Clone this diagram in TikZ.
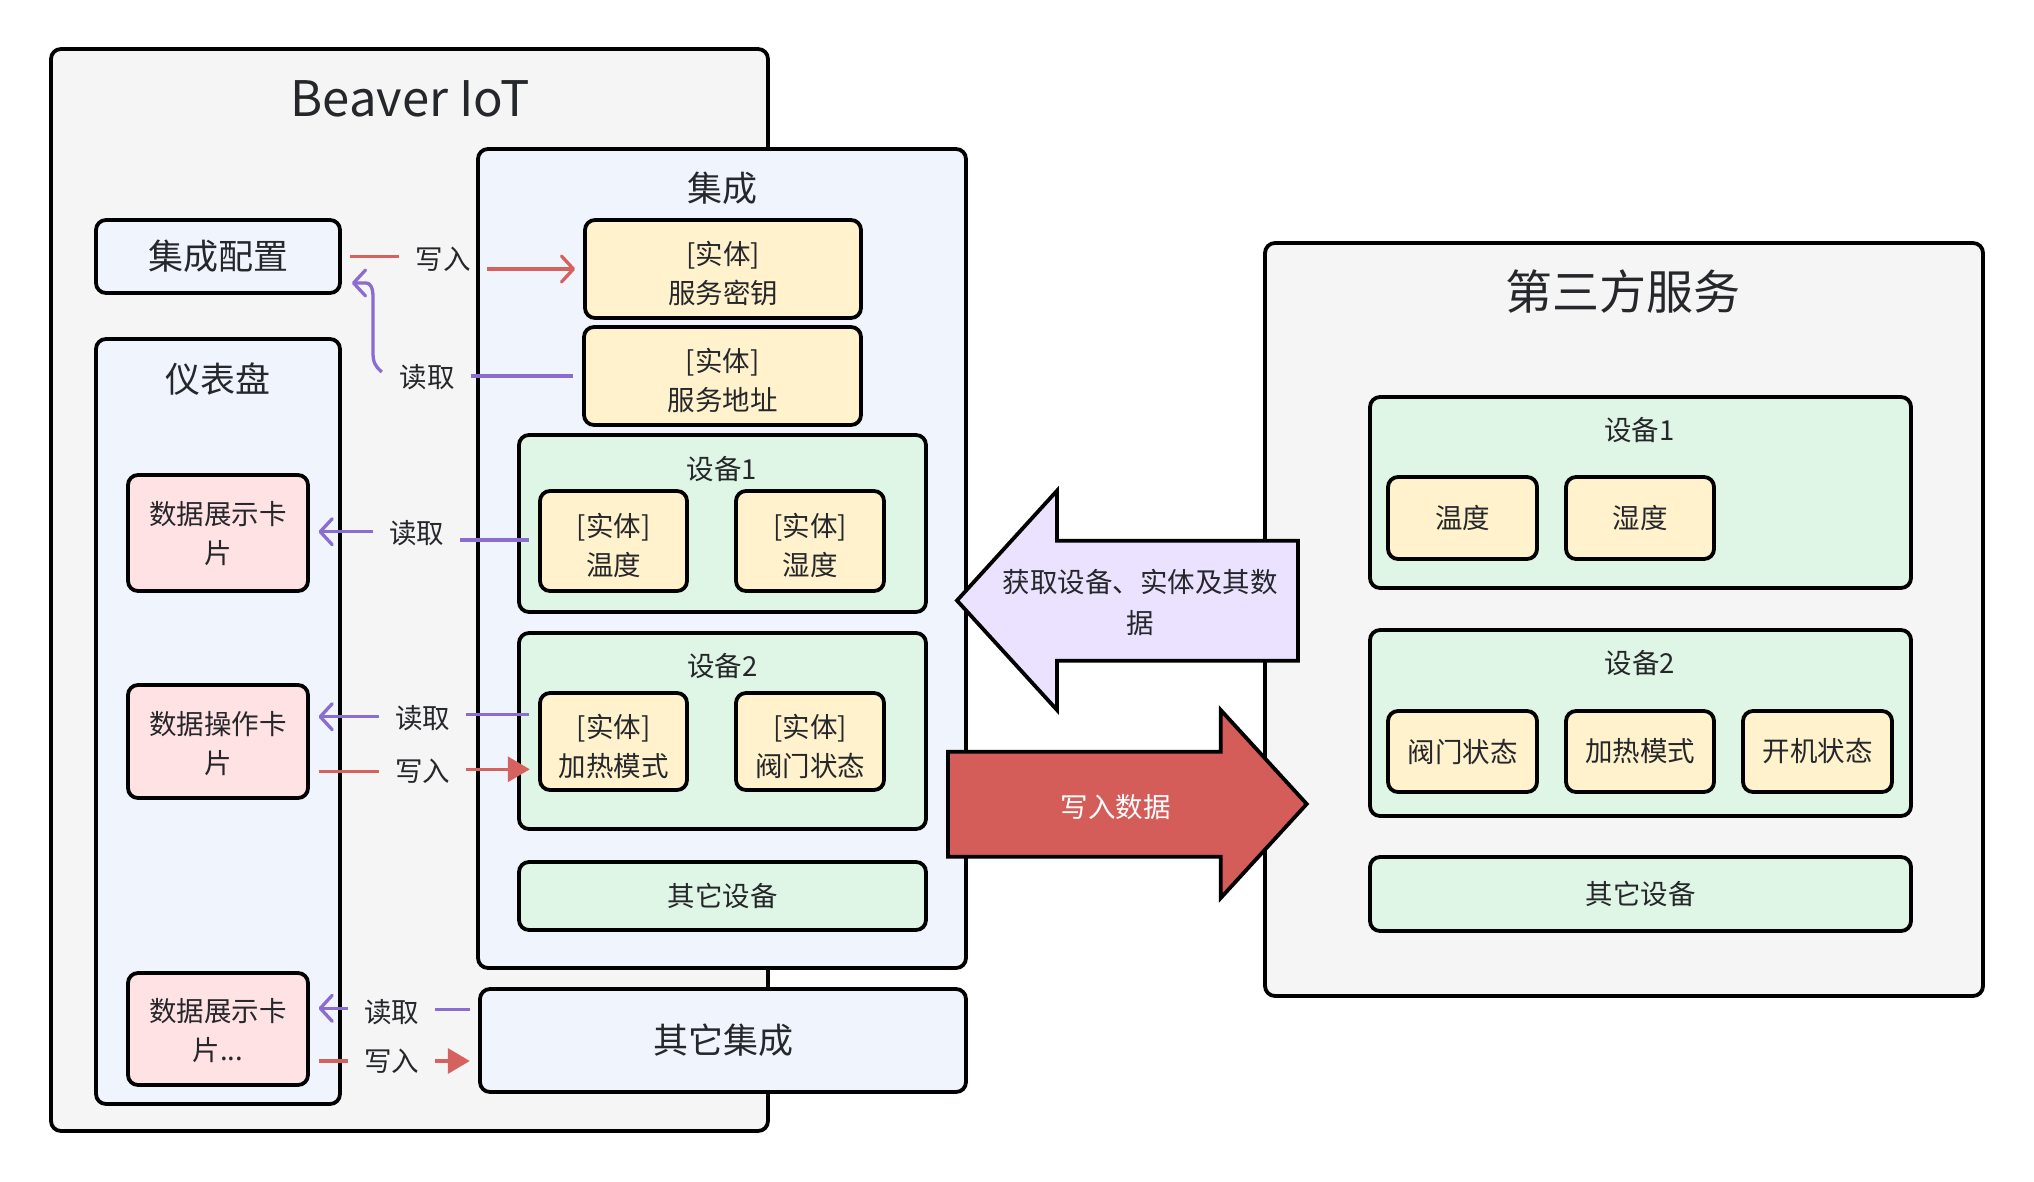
\documentclass[tikz,border=0pt]{standalone}
\usepackage{fontspec}
\setmainfont{Noto Sans CJK SC}
\usetikzlibrary{arrows.meta}
\definecolor{gray1}{HTML}{F5F5F5}
\definecolor{blue1}{HTML}{EFF4FD}
\definecolor{ent1}{HTML}{FFF2CC}
\definecolor{green1}{HTML}{DFF5E5}
\definecolor{pink1}{HTML}{FFE2E4}
\definecolor{purp1}{HTML}{EAE2FE}
\definecolor{redbig}{HTML}{D45D5A}
\definecolor{redln}{HTML}{D6625F}
\definecolor{purln}{HTML}{8B6CD0}
\definecolor{txt}{HTML}{25272B}
\newcommand\myfs{\fontsize{27.5}{39}\selectfont}
\newcommand\mymid{\fontsize{35}{42}\selectfont}
\newcommand\mybig{\fontsize{47}{56}\selectfont}
\newcommand\mytitle{\fontsize{49}{58}\selectfont}
\begin{document}
\begin{tikzpicture}[x=1pt,y=-1pt,
  box/.style={draw=black, line width=3.8pt, rounded corners=10pt, inner sep=0pt, font=\myfs, text=txt, align=center},
  sz/.style 2 args={minimum width=#1pt, minimum height=#2pt},
  ttl/.style={inner sep=0pt, text=txt, align=center},
  lab/.style={font=\myfs, text=txt, inner xsep=16pt, inner ysep=0pt},
  redl/.style={draw=redln, line width=3.3pt},
  purl/.style={draw=purln, line width=3.3pt},
  barb/.style={-{Straight Barb[length=12pt,width=26pt,round]}},
  tri/.style={-{Triangle[length=22pt,width=25pt]}},
  bigarrow/.style={draw=black, line width=3.8pt, line join=miter}
]
\useasboundingbox[fill=white] (0,0) rectangle (2034,1182);

% Beaver IoT
\node[box, fill=gray1, sz={717}{1082}] (beaver) at (409.5,590) {};
\node[ttl, font=\mytitle] (beaverT) at (410,99) {Beaver IoT};
\node[box, fill=blue1, sz={244}{73}, font=\mymid] (cfg) at (218,256.5) {集成配置};
\node[box, fill=blue1, sz={244}{765}] (dash) at (218,721.5) {};
\node[ttl, font=\mymid] (dashT) at (218,379) {仪表盘};
\node[box, fill=pink1, sz={180}{116}] (card1) at (218,533) {};
\node[ttl, font=\myfs] (card1T) at (218,534) {数据展示卡\\片};
\node[box, fill=pink1, sz={180}{113}] (card2) at (218,741.5) {};
\node[ttl, font=\myfs] (card2T) at (218,743.5) {数据操作卡\\片};
\node[box, fill=pink1, sz={180}{112}] (card3) at (218,1029) {};
\node[ttl, font=\myfs] (card3T) at (218,1031) {数据展示卡\\片...};

% integration
\node[box, fill=blue1, sz={488}{819}] (integ) at (722,558.5) {};
\node[ttl, font=\mymid] (integT) at (722,188) {集成};
\node[box, fill=ent1, sz={276}{98}] (key) at (723,269) {};
\node[ttl, font=\myfs] (keyT) at (723,273.7) {[实体]\\服务密钥};
\node[box, fill=ent1, sz={277}{98}] (addr) at (722.5,376) {};
\node[ttl, font=\myfs] (addrT) at (722.5,380.5) {[实体]\\服务地址};
\node[box, fill=green1, sz={407}{177}] (dev1) at (722.5,523.5) {};
\node[ttl, font=\myfs] (dev1T) at (722,469) {设备1};
\node[box, fill=ent1, sz={147}{100}] (temp) at (613.5,541) {};
\node[ttl, font=\myfs] (tempT) at (613.5,545.5) {[实体]\\温度};
\node[box, fill=ent1, sz={148}{100}] (hum) at (810,541) {};
\node[ttl, font=\myfs] (humT) at (810,545.5) {[实体]\\湿度};
\node[box, fill=green1, sz={407}{196}] (dev2) at (722.5,731) {};
\node[ttl, font=\myfs] (dev2T) at (722.5,665.6) {设备2};
\node[box, fill=ent1, sz={147}{97}] (heat) at (613.5,741.5) {};
\node[ttl, font=\myfs] (heatT) at (613.5,746.4) {[实体]\\加热模式};
\node[box, fill=ent1, sz={148}{97}] (valve) at (810,741.5) {};
\node[ttl, font=\myfs] (valveT) at (810,746.4) {[实体]\\阀门状态};
\node[box, fill=green1, sz={407}{68}] (odev) at (722.5,896) {其它设备};
\node[box, fill=blue1, sz={486}{103}, font=\mymid] (oth) at (723,1040.5) {其它集成};

% third party
\node[box, fill=gray1, sz={718}{753}] (third) at (1624,619.5) {};
\node[ttl, font=\mybig] (thirdT) at (1623,292) {第三方服务};
\node[box, fill=green1, sz={541}{191}] (tdev1) at (1640.5,492.5) {};
\node[ttl, font=\myfs] (tdev1T) at (1639.6,430.5) {设备1};
\node[box, fill=ent1, sz={149}{82}] (ttemp) at (1462.5,518) {温度};
\node[box, fill=ent1, sz={148}{82}] (thum) at (1640,518) {湿度};
\node[box, fill=green1, sz={541}{186}] (tdev2) at (1640.5,723) {};
\node[ttl, font=\myfs] (tdev2T) at (1640,662.6) {设备2};
\node[box, fill=ent1, sz={149}{81}] (tvalve) at (1462.5,751.5) {阀门状态};
\node[box, fill=ent1, sz={148}{81}] (theat) at (1640,751.5) {加热模式};
\node[box, fill=ent1, sz={149}{81}] (tpower) at (1817.5,751.5) {开机状态};
\node[box, fill=green1, sz={541}{74}] (tother) at (1640.5,894) {其它设备};

% big arrows
\draw[bigarrow, fill=purp1] (957,600.5) -- (1057,490.7) -- (1057,540.7) -- (1298,540.7) -- (1298,660.7) -- (1057,660.7) -- (1057,710) -- cycle;
\node[ttl, font=\myfs, text=txt, execute at begin node=\setlength{\baselineskip}{41pt}] (getT) at (1140,602.4) {获取设备、实体及其数\\据};
\draw[bigarrow, fill=redbig] (948,751.7) -- (1220.7,751.7) -- (1220.7,710) -- (1306.7,804) -- (1220.7,898) -- (1220.7,856.7) -- (948,856.7) -- cycle;
\node[ttl, font=\myfs, text=white] (putT) at (1115.8,806.7) {写入数据};

% labels
\node[lab] (w1) at (443,259) {写入};
\node[lab] (r1) at (427,377) {读取};
\node[lab] (r2) at (416.7,533) {读取};
\node[lab] (r3) at (422.5,718) {读取};
\node[lab] (w2) at (422.5,771.7) {写入};
\node[lab] (r4) at (391.7,1011.7) {读取};
\node[lab] (w3) at (391.7,1061.7) {写入};

% connectors
\draw[redl] ([xshift=8pt]cfg.east) -- ([yshift=2.5pt]w1.west);
\draw[redl, barb] ([yshift=-10pt]w1.east) -- ([xshift=-8pt]key.west);

\draw[purl] ([yshift=1pt]r1.east) -- ([xshift=-9pt]addr.west);
\coordinate (r1s) at ([xshift=-1.5pt,yshift=5pt]r1.west);
\draw[purl, barb] (r1s) .. controls +(-7,-6) and +(0,10) .. (373,352) -- (373,297) .. controls +(0,-10) and +(4,0) .. (366,283) -- ([xshift=10pt,yshift=-26.5pt]cfg.east);

\draw[purl] ([yshift=-7pt]r2.east) -- ([xshift=-9pt,yshift=1pt]temp.west);
\draw[purl, barb] ([yshift=1.3pt]r2.west) -- ([xshift=8.7pt,yshift=1.3pt]card1.east);

\draw[purl] ([yshift=3.7pt]r3.east) -- ([xshift=-9pt,yshift=27.2pt]heat.west);
\draw[purl, barb] ([yshift=1.3pt]r3.west) -- ([xshift=8.7pt,yshift=24.8pt]card2.east);

\draw[redl] ([xshift=8.7pt,yshift=-30.2pt]card2.east) -- (w2.west);
\draw[redl, tri] ([yshift=2.4pt]w2.east) -- ([xshift=-8.3pt,yshift=-27.8pt]heat.west);

\draw[purl, barb] ([yshift=3.4pt]r4.west) -- ([xshift=8.7pt,yshift=20.7pt]card3.east);
\draw[purl] ([yshift=2.4pt]r4.east) -- ([xshift=-8.3pt,yshift=31.2pt]oth.west);

\draw[redl] ([xshift=8.7pt,yshift=-32pt]card3.east) -- ([yshift=0.7pt]w3.west);
\draw[redl, tri] ([yshift=0.7pt]w3.east) -- ([xshift=-8.3pt,yshift=-20.5pt]oth.west);
\end{tikzpicture}
\end{document}
